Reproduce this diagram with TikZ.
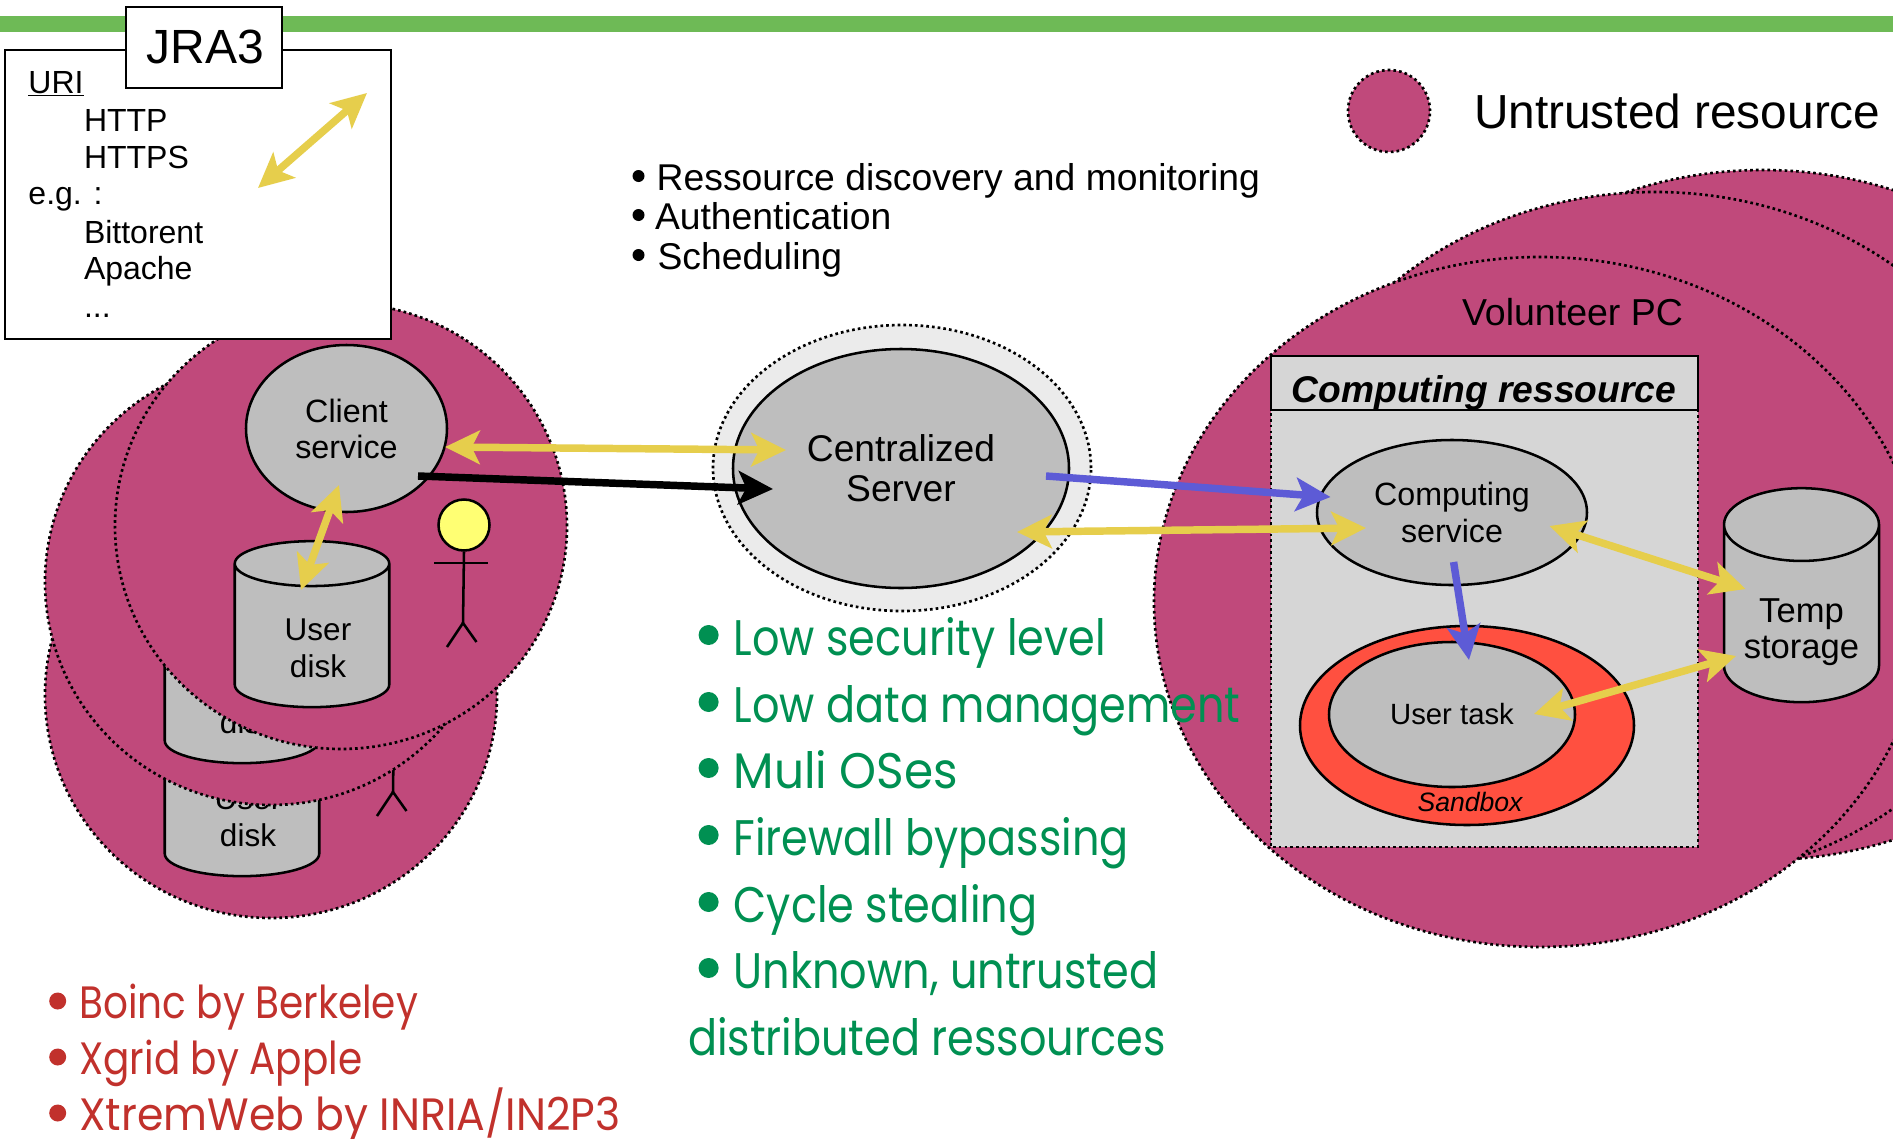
\documentclass[tikz,border=0pt]{standalone}
\usepackage{fontspec}
\setmainfont{Liberation Sans}
\newfontfamily\geofont[FakeStretch=.86]{Poppins}
\newfontfamily\geowide[FakeStretch=.94]{Poppins}
\usetikzlibrary{shapes.geometric, arrows.meta}
\tikzset{>={Stealth[length=26pt,width=25pt,inset=6pt]}}
\definecolor{barcol}{HTML}{6EBA56}
\definecolor{pccol}{HTML}{C0497B}
\definecolor{graycol}{HTML}{BEBEBE}
\definecolor{panelcol}{HTML}{D6D6D6}
\definecolor{halocol}{HTML}{EBEBEB}
\definecolor{boxcol}{HTML}{FF5040}
\definecolor{headcol}{HTML}{FFFF73}
\definecolor{yellowcol}{HTML}{E6CE4C}
\definecolor{bluecol}{HTML}{5D5BD6}
\definecolor{greencol}{HTML}{009052}
\definecolor{redcol}{HTML}{C1312C}
\newcommand{\pxfont}[1]{\pgfmathsetlengthmacro\fsz{#1*.75}\pgfmathsetlengthmacro\bsz{#1*.75*1.17}\fontsize{\fsz}{\bsz}\selectfont}
\tikzset{
  oval/.style 2 args={ellipse,inner sep=0,outer sep=0,minimum width=#1*.75pt,minimum height=#2*.75pt,align=center},
  dotline/.style={draw=black,line width=2pt,dash pattern=on 2pt off 2.3pt},
  machine/.style 2 args={oval={#1}{#2},fill=pccol,dotline},
  service/.style 2 args={oval={#1}{#2},fill=graycol,draw=black,line width=1.9pt},
  storage/.style 2 args={cylinder,shape border rotate=90,aspect=#2,minimum width=#1*.75pt,
    cylinder uses custom fill,cylinder body fill=graycol,cylinder end fill=graycol,
    draw=black,line width=1.9pt,inner sep=0,outer sep=0},
  frame/.style={draw=black,line width=1.9pt,fill=white},
  size/.style={font=\pxfont{#1}},
  plain/.style={inner sep=0,outer sep=0,anchor=base west},
  yarrow/.style={<->,draw=yellowcol,line width=5.6pt},
  barrow/.style={->,draw=bluecol,line width=5.6pt},
  karrow/.style={->,draw=black,line width=5.6pt},
  dot/.style={circle,inner sep=0,minimum size=#1*.75pt}
}
\begin{document}
\begin{tikzpicture}[x=.75pt,y=-.75pt]
\useasboundingbox (0,0) rectangle (1893,1139);

\fill[barcol] (0,16) rectangle (1893,32);

% volunteer machines, back to front
\node[machine={772}{690}] (pc3) at (1763,515) {};
\node[machine={772}{690}] (pc2) at (1655,537) {};
\node[machine={772}{690}] (pc1) at (1540,602) {};
\node[size=37.5,plain] (pclabel) at (1462,325) {Volunteer PC};

% client machines, back to front
\foreach\n/\dx/\dy in {c/-70/169,b/-70/56,a/0/0}
{
  \begin{scope}[shift={(\dx,\dy)}]
    \node[machine={452}{446}] (client\n) at (341,526) {};
    \node[storage={154.5}{.675},minimum height=166*.75pt,size=31.5] (disk\n) at (312,636) {\phantom{User}};
    \node[size=31.5,align=center,inner sep=0] (disklabel\n) at (318,648.5) {User\\disk};
    \node[dot=51,fill=headcol,draw=black,line width=1.9pt] (head\n) at (464,525) {};
    \coordinate (hip\n) at (463,623);
    \draw[black,line width=1.9pt] (head\n.south) -- (hip\n);
    \draw[black,line width=1.9pt] (434,563) -- (487.5,563);
    \draw[black,line width=1.9pt] (447,647) -- (hip\n) -- (476.5,642);
  \end{scope}
}
\node[service={201}{167},size=32.3] (cs) at (346.5,428.5) {Client\\[-1.3pt]service};

% server
\node[oval={378}{286},fill=halocol,dotline] (halo) at (902,468) {};
\node[service={336}{239},size=37.2] (server) at (901,468.5) {Centralized\\[-2.6pt]Server};

% computing ressource
\filldraw[fill=panelcol,dotline] (1271,356) rectangle (1698,847);
\node[draw=black,line width=1.9pt,fill=panelcol,minimum width=427*.75pt,minimum height=54*.75pt,inner sep=0,outer sep=0] (rhead) at (1484.5,383) {};
\node[size=37.2,inner sep=0,anchor=base] (rtitle) at (1484,402) {\bfseries\itshape Computing ressource};
\node[service={270}{145},size=32.2] (compute) at (1452,512.5) {Computing\\service};
\node[service={334}{199},fill=boxcol] (sandbox) at (1467,725.5) {};
\node[service={246}{145},size=29.3] (task) at (1452,714.5) {User task};
\node[size=26.6,inner sep=0,anchor=base] (sandlabel) at (1470,811) {\itshape Sandbox};
\node[storage={155}{.86},minimum height=214*.75pt,size=34.6] (temp) at (1801.5,614) {\phantom{Temp}};
\node[size=34.6,align=center,inner sep=0] (templabel) at (1801.5,632) {Temp\\[-3.4pt]storage};

% legend
\node[dot=82,fill=pccol,dotline] (legend) at (1389,111) {};
\node[size=47.8,plain] (legendtext) at (1474,128) {Untrusted resource};

% JRA3 box
\draw[frame] (5,50) rectangle (391,339);
\node[frame,minimum width=156*.75pt,minimum height=81*.75pt,inner sep=0,outer sep=0] (jrabox) at (204,47.5) {};
\node[size=48,inner sep=0,anchor=base] (jra) at (205.5,63) {JRA3};
\foreach\t/\x/\y [count=\i] in {\underline{URI}/28.5/93,HTTP/84/131,HTTPS/84/168,e.g. :/28.5/204,Bittorent/84/243,Apache/84/279}
  \node[size=32,plain] (uri\i) at (\x,\y) {\t};
\node[size=32,plain] (uri7) at (84,317) {...};

% server jobs
\foreach\t/\x/\y [count=\i] in {Ressource discovery and monitoring/656.7/190,Authentication/655/229,Scheduling/657.5/269}
{
  \node[size=37.3,plain] (job\i) at (\x,\y) {\t};
  \node[dot=12,fill=black] (jobdot\i) at (638.5,\y-14) {};
}

% connectors
\coordinate (jraA) at (258,188);
\coordinate (jraB) at (367,93);
\coordinate (csE) at (445,447);
\coordinate (srvW) at (786,450);
\coordinate (csS) at (339,485);
\coordinate (diskN) at (301,590);
\coordinate (csOut) at (418,476);
\coordinate (srvIn) at (773,489);
\coordinate (srvOut) at (1046,476);
\coordinate (compIn) at (1330.5,497);
\coordinate (srvSE) at (1017,532);
\coordinate (compW) at (1366,528);
\coordinate (compE) at (1549.5,526);
\coordinate (tempN) at (1745.6,589);
\coordinate (taskE) at (1534,714);
\coordinate (tempW) at (1736,656);
\coordinate (compS) at (1453.6,562);
\coordinate (taskN) at (1469,660);
\draw[yarrow] (jraA) -- (jraB);
\draw[yarrow] (csE) -- (srvW);
\draw[yarrow] (csS) -- (diskN);
\draw[karrow] (csOut) -- (srvIn);
\draw[barrow] (srvOut) -- (compIn);
\draw[yarrow] (srvSE) -- (compW);
\draw[yarrow] (compE) -- (tempN);
\draw[yarrow] (taskE) -- (tempW);
\draw[barrow] (compS) -- (taskN);

% properties
\foreach\t/\y [count=\i] in {Low security level/655,Low data management/722,{\geowide Muli OSes}/788,Firewall bypassing/855,Cycle stealing/922,{Unknown, untrusted}/988}
{
  \node[plain,text=greencol,font=\geofont\fontsize{37.5}{44}\selectfont] (prop\i) at (733.6,\y) {\t};
  \node[dot=20,fill=greencol] (propdot\i) at (708.6,\y-20) {};
}
\node[plain,text=greencol,font=\geofont\fontsize{37.5}{44}\selectfont] (prop7) at (688,1055) {distributed ressources};

% projects
\foreach\t/\y [count=\i] in {Boinc by Berkeley/1018,Xgrid by Apple/1074,{\geowide XtremWeb by INRIA/IN2P3}/1130}
{
  \node[plain,text=redcol,font=\geofont\fontsize{34}{40}\selectfont] (proj\i) at (79.4,\y) {\t};
  \node[dot=17,fill=redcol] (projdot\i) at (57.7,\y-17) {};
}
\end{tikzpicture}
\end{document}
